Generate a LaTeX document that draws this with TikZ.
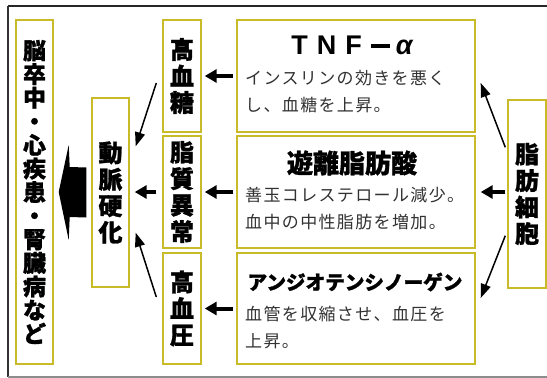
\documentclass[tikz,border=0pt]{standalone}
\usepackage{fontspec}
\usetikzlibrary{arrows.meta,calc}
\newfontfamily\jp[BoldFeatures={FakeBold=1.2}]{Noto Sans CJK JP}
\newfontfamily\jpbody[LetterSpace=8]{Noto Sans CJK JP}
\newfontfamily\lib{Liberation Sans}
\definecolor{boxc}{RGB}{201,186,40}
\definecolor{bodyc}{RGB}{50,50,50}
\begin{document}
\begin{tikzpicture}[x=1pt,y=-1pt,
  box/.style={draw=boxc,line width=1.4pt,inner sep=0pt,fill=white},
  vbox/.style={box,align=center,font=\jp\bfseries\fontsize{24}{26.5}\selectfont},
  tbox/.style={box},
  body/.style={anchor=north west,inner sep=0pt,align=left,text=bodyc,
    font=\jpbody\fontsize{17}{27}\selectfont},
  harrow/.style={line width=4pt,-{Triangle[length=12pt,width=13pt]}},
  darrow/.style={line width=1.5pt,-{Triangle[length=14pt,width=10pt]}}
]
\useasboundingbox (0,0) rectangle (547,378);
% frame
\draw[line width=2pt,black!85] (8,6) -- (550,6);
\draw[line width=2pt,black!80] (8,6) -- (8,377);
\draw[line width=1.5pt,black!45] (8,377) -- (550,377);

% boxes
\node[box,minimum width=37pt,minimum height=344pt,align=center,
  font=\jp\bfseries\fontsize{23}{23.6}\selectfont] (brain) at (34.5,192)
  {脳\\卒\\中\\・\\心\\疾\\患\\・\\腎\\臓\\病\\な\\ど};
\node[vbox,minimum width=37pt,minimum height=189pt] (athero) at (110.5,192.5) {動\\脈\\硬\\化};
\node[vbox,minimum width=38pt,minimum height=112pt] (hg) at (182,76) {高\\血\\糖};
\node[vbox,minimum width=38pt,minimum height=112pt] (lip) at (182,192) {脂\\質\\異\\常};
\node[vbox,minimum width=38pt,minimum height=111pt] (bp) at (182,308.5) {高\\血\\圧};
\node[tbox,minimum width=238pt,minimum height=112pt] (tnf) at (356,76) {};
\node[tbox,minimum width=238pt,minimum height=112pt] (ffa) at (356,192) {};
\node[tbox,minimum width=238pt,minimum height=111pt] (ang) at (356,308.5) {};
\node[vbox,minimum width=38pt,minimum height=188pt] (fat) at (527,194) {脂\\肪\\細\\胞};

% titles and texts
\node[inner sep=0pt,font=\lib\bfseries\fontsize{27}{27}\selectfont] (tnft) at (352,45)
  {T\hspace{9pt}N\hspace{9pt}F\hspace{9pt}\rule[6.5pt]{19pt}{3.5pt}\hspace{6pt}\itshape α};
\node[body] (tnfb) at (245,70) {インスリンの効きを悪く\\し、血糖を上昇。};
\node[inner sep=0pt,font=\jp\bfseries\fontsize{26}{26}\selectfont] (ffat) at (352,163) {遊離脂肪酸};
\node[body] (ffab) at (245,187) {善玉コレステロール減少。\\血中の中性脂肪を増加。};
\node[inner sep=0pt,font=\jp\bfseries\fontsize{19.6}{20}\selectfont] (angt) at (355,282) {アンジオテンシノーゲン};
\node[body] (angb) at (245,306) {血管を収縮させ、血圧を\\上昇。};

% arrows
\draw[harrow,shorten <=3pt,shorten >=3pt] (tnf.west) -- (hg.east);
\draw[harrow,shorten <=3pt,shorten >=3pt] (ffa.west) -- (lip.east);
\draw[harrow,shorten <=3pt,shorten >=3pt] (ang.west |- bp.east) -- (bp.east);
\draw[harrow,shorten <=6pt,shorten >=5pt] (lip.west) -- (athero.east |- lip.west);
\draw[harrow,shorten <=2pt,shorten >=5pt] (fat.west |- ffa.east) -- (ffa.east);
\draw[darrow] ($(hg.west)+(-6,7)$) -- ($(athero.north east)+(6,49)$);
\draw[darrow] ($(bp.west)+(-6,-11.5)$) -- ($(athero.south east)+(6,-55)$);
\draw[darrow] ($(fat.north west)+(-2,48)$) -- ($(tnf.east)+(5,7)$);
\draw[darrow] ($(fat.south west)+(-2,-53)$) -- ($(ang.east)+(5,-10.5)$);

% big arrow athero -> brain
\fill ($(athero.west)+(-5,-25)$) -- ($(brain.east)+(16,-25)$) -- ($(brain.east)+(15,-47)$)
  -- ($(brain.east)+(5,0)$) -- ($(brain.east)+(15,48)$) -- ($(brain.east)+(16,25)$)
  -- ($(athero.west)+(-5,25)$) -- cycle;
\end{tikzpicture}
\end{document}
